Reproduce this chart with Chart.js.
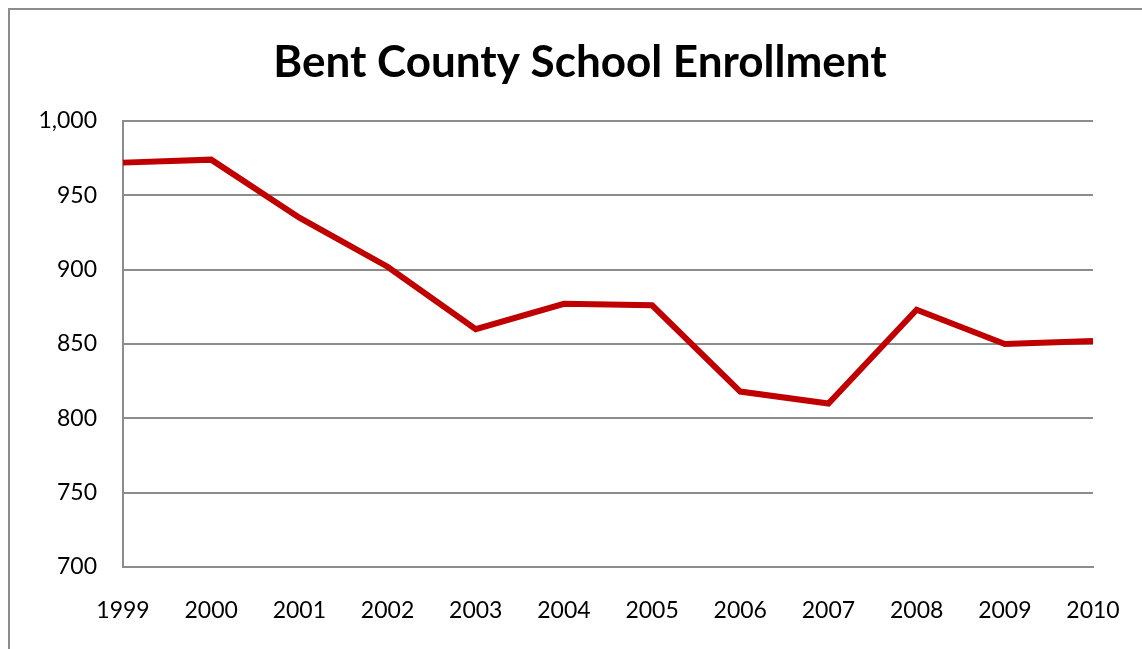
<!DOCTYPE html>
<html>
<head>
    <title>Bent County School Enrollment</title>
    <script src="https://cdn.jsdelivr.net/npm/chart.js"></script>
    <style>
        html, body {
            margin: 0;
            padding: 0;
            background: #ffffff;
            overflow: hidden;
        }
    </style>
</head>
<body>
    <canvas id="enrollChart" width="1142" height="649"></canvas>

    <script>
        const years = ["1999", "2000", "2001", "2002", "2003", "2004", "2005", "2006", "2007", "2008", "2009", "2010"];
        const enrollment = [972, 974, 935, 902, 860, 877, 876, 818, 810, 873, 850, 852];
        const yMin = 700;
        const yMax = 1000;
        const yStep = 50;

        const GRID = "#8c8c8c";

        // grey frame: only the top and left edges show, the rest is cut off
        const framePlugin = {
            id: "frame",
            beforeDraw(chart) {
                const ctx = chart.ctx;
                ctx.save();
                ctx.fillStyle = "#ffffff";
                ctx.fillRect(0, 0, chart.width, chart.height);
                ctx.strokeStyle = "#8c8c8c";
                ctx.lineWidth = 2;
                ctx.beginPath();
                ctx.moveTo(9, chart.height + 5);
                ctx.lineTo(9, 9);
                ctx.lineTo(chart.width + 5, 9);
                ctx.stroke();
                ctx.restore();
            }
        };

        new Chart(document.getElementById("enrollChart"), {
            type: "line",
            data: {
                labels: years,
                datasets: [{
                    label: "Enrollment",
                    data: enrollment,
                    borderColor: "#c00000",
                    backgroundColor: "#c00000",
                    borderWidth: 6,
                    pointRadius: 0,
                    tension: 0,
                    fill: false
                }]
            },
            options: {
                responsive: false,
                animation: false,
                layout: {
                    padding: { left: 18, right: 0, top: 0, bottom: 0 }
                },
                plugins: {
                    legend: { display: false },
                    tooltip: { enabled: false },
                    title: {
                        display: true,
                        text: "Bent County School Enrollment",
                        color: "#000000",
                        font: { family: "Lato", size: 44, weight: "bold", lineHeight: 1.2 },
                        padding: { top: 36.6, bottom: 31.6 }
                    }
                },
                scales: {
                    x: {
                        offset: false,
                        grid: { display: true, color: "rgba(0,0,0,0)", drawTicks: false },
                        border: { display: true, color: GRID, width: 2 },
                        ticks: {
                            color: "#000000",
                            font: { family: "Lato", size: 23 },
                            padding: 30,
                            maxRotation: 0,
                            autoSkip: false
                        },
                        afterFit(scale) {
                            scale.height = 82;
                            scale.paddingLeft = 0;
                            scale.paddingRight = 0;
                        }
                    },
                    y: {
                        min: yMin,
                        max: yMax,
                        grid: { color: GRID, lineWidth: 2, drawTicks: false },
                        border: { display: true, color: GRID, width: 2 },
                        ticks: {
                            stepSize: yStep,
                            color: "#000000",
                            font: { family: "Lato", size: 23 },
                            padding: 26,
                            callback: v => v.toLocaleString("en-US")
                        },
                        afterFit(scale) { scale.width = 105; }
                    },
                    // empty axis that only keeps the right margin
                    yRight: {
                        position: "right",
                        display: true,
                        grid: { display: false },
                        border: { display: false },
                        ticks: { display: false },
                        afterFit(scale) { scale.width = 49; }
                    }
                }
            },
            plugins: [framePlugin]
        });
    </script>
</body>
</html>
